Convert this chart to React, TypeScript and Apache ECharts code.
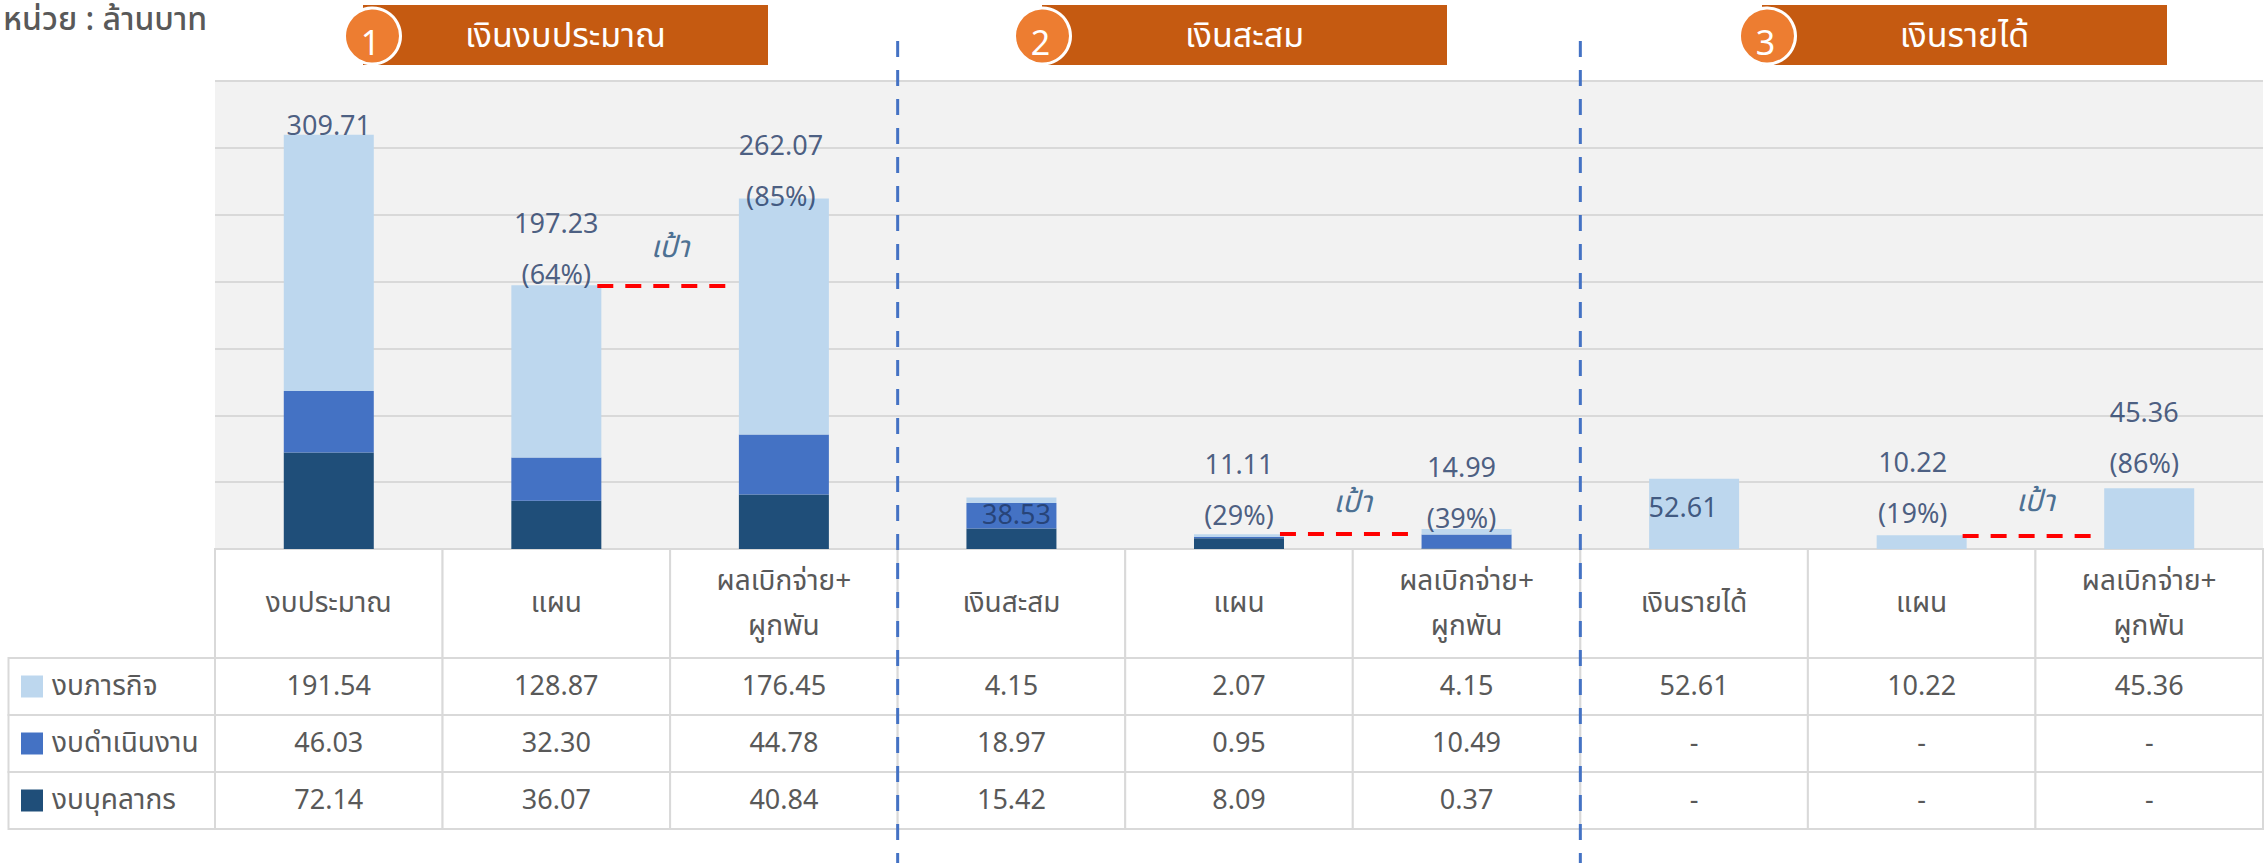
import React, { useEffect, useRef } from 'react';
import * as echarts from 'echarts';

// ---------- data ----------
const categories = [
  'งบประมาณ', 'แผน', 'ผลเบิกจ่าย+\nผูกพัน',
  'เงินสะสม', 'แผน', 'ผลเบิกจ่าย+\nผูกพัน',
  'เงินรายได้', 'แผน', 'ผลเบิกจ่าย+\nผูกพัน',
];
const sectionTitles = ['เงินงบประมาณ', 'เงินสะสม', 'เงินรายได้'];
const seriesNames = ['งบภารกิจ', 'งบดำเนินงาน', 'งบบุคลากร'];
const missionValues = [191.54, 128.87, 176.45, 4.15, 2.07, 4.15, 52.61, 10.22, 45.36];
const operatingValues = [46.03, 32.3, 44.78, 18.97, 0.95, 10.49, null, null, null];
const personnelValues = [72.14, 36.07, 40.84, 15.42, 8.09, 0.37, null, null, null];
const totalValues = [309.71, 197.23, 262.07, 38.53, 11.11, 14.99, 52.61, 10.22, 45.36];
const planIndices = [1, 4, 7];
const yMin = 0;
const yMax = 350;
const yInterval = 50;
const targetLabel = 'เป้า';
const unitLabel = 'หน่วย : ล้านบาท';

// ---------- layout / style ----------
const W = 2267;
const H = 863;
const GL = 215;
const GT = 81;
const GW = 2048;
const GH = 468;
const HEAD_T = GT + GH;
const HEAD_H = 109;
const ROW_T = HEAD_T + HEAD_H;
const ROW_H = 57;
const LABEL_L = 8.5;
const COL_W = GW / categories.length;
const FONT = "'Noto Sans Thai', 'Leelawadee UI', Tahoma, 'Noto Sans', 'DejaVu Sans', sans-serif";
const C_LIGHT = '#BDD7EE';
const C_MID = '#4472C4';
const C_DARK = '#1F4E79';
const rowColors = [C_LIGHT, C_MID, C_DARK];
const rowValues = [missionValues, operatingValues, personnelValues];
const totalLabelOffsets = [
  [0, -8], [0, -35], [-3, -27],
  [5, 18], [0, -43], [-5, -35],
  [-11, 30], [-9, -46], [-5, -49],
];
const targetLabelOffsets = [[0, -37], [0, -31], [0, -33]];
const bannerX = [363, 1042, 1762];
const circleX = [372.5, 1042.5, 1767.5];
const FS_NUM = 27;
const FS_THAI = 28;

function pctLabel(i: number) {
  const base = totalValues[i - (i % 3)];
  const v = totalValues[i].toFixed(2);
  if (i % 3 === 0) return v;
  return v + '\n(' + Math.round((totalValues[i] / base) * 100) + '%)';
}

export default function App() {
  const ref = useRef<HTMLDivElement>(null);
  useEffect(() => {
    if (!ref.current) return;
    const chart = echarts.init(ref.current, undefined, { renderer: 'svg' });

    const barBase = {
      type: 'bar',
      stack: 'total',
      barWidth: 90,
      xAxisIndex: 0,
      yAxisIndex: 0,
      silent: true,
    };

    const graphics: any[] = [
      {
        type: 'text',
        x: 3,
        y: 4,
        style: { text: unitLabel, fill: '#595959', fontSize: 32, fontWeight: 500, fontFamily: FONT, verticalAlign: 'top' },
      },
    ];
    sectionTitles.forEach((t, s) => {
      graphics.push({
        type: 'rect',
        shape: { x: bannerX[s], y: 5, width: 405, height: 60 },
        style: { fill: '#C55A11' },
        z: 10,
      });
      graphics.push({
        type: 'circle',
        shape: { cx: circleX[s], cy: 36, r: 28 },
        style: { fill: '#ED7D31', stroke: '#FFFFFF', lineWidth: 3 },
        z: 11,
      });
      graphics.push({
        type: 'text',
        x: circleX[s] - 2,
        y: 44,
        style: { text: String(s + 1), fill: '#FFFFFF', fontSize: 34, fontFamily: FONT, align: 'center', verticalAlign: 'middle' },
        z: 12,
      });
      graphics.push({
        type: 'text',
        x: bannerX[s] + 202.5,
        y: 36,
        style: { text: t, fill: '#FFFFFF', fontSize: 34, fontFamily: FONT, align: 'center', verticalAlign: 'middle' },
        z: 12,
      });
    });
    [3, 6].forEach((k) => {
      const x = GL + k * COL_W;
      graphics.push({
        type: 'line',
        shape: { x1: x, y1: 41, x2: x, y2: H },
        style: { stroke: '#4472C4', lineWidth: 3, lineDash: [16, 13] },
        z: 100,
      });
    });

    const option: any = {
      animation: false,
      backgroundColor: '#FFFFFF',
      textStyle: { fontFamily: FONT },
      grid: [
        { left: GL, top: GT, width: GW, height: GH, show: true, backgroundColor: '#F2F2F2', borderWidth: 0 },
        { left: GL, top: HEAD_T, width: GW, height: HEAD_H },
        { left: GL, top: ROW_T, width: GW, height: ROW_H * 3 },
      ],
      xAxis: [
        {
          gridIndex: 0, type: 'category', data: categories,
          axisLabel: { show: false }, axisTick: { show: false },
          axisLine: { show: true, lineStyle: { color: '#D9D9D9', width: 2 } },
        },
        { gridIndex: 0, type: 'value', min: 0, max: categories.length, show: false },
        { gridIndex: 1, type: 'category', data: categories, show: false },
        { gridIndex: 2, type: 'category', data: categories, show: false },
      ],
      yAxis: [
        {
          gridIndex: 0, type: 'value', min: yMin, max: yMax, interval: yInterval,
          axisLabel: { show: false }, axisLine: { show: false }, axisTick: { show: false },
          splitLine: { show: true, lineStyle: { color: '#D9D9D9', width: 2 } },
        },
        { gridIndex: 1, type: 'category', data: ['header'], show: false },
        { gridIndex: 2, type: 'category', data: seriesNames, inverse: true, show: false },
      ],
      series: [
        { ...barBase, name: seriesNames[2], data: personnelValues, itemStyle: { color: C_DARK } },
        { ...barBase, name: seriesNames[1], data: operatingValues, itemStyle: { color: C_MID } },
        { ...barBase, name: seriesNames[0], data: missionValues, itemStyle: { color: C_LIGHT } },
        {
          type: 'scatter',
          xAxisIndex: 0, yAxisIndex: 0,
          symbolSize: 1,
          silent: true,
          itemStyle: { color: 'rgba(0,0,0,0)' },
          z: 5,
          data: totalValues.map((v, i) => ({ value: [i, v], label: { offset: totalLabelOffsets[i] } })),
          label: {
            show: true,
            position: 'inside',
            formatter: (p: any) => pctLabel(p.dataIndex),
            color: '#1F3864',
            fontSize: FS_NUM,
            lineHeight: 51,
            fontFamily: FONT,
            align: 'center',
            verticalAlign: 'middle',
          },
        },
        {
          type: 'scatter',
          xAxisIndex: 1, yAxisIndex: 0,
          symbolSize: 1,
          silent: true,
          itemStyle: { color: 'rgba(0,0,0,0)' },
          z: 5,
          data: planIndices.map((p, k) => ({ value: [p + 1, totalValues[p]], label: { offset: targetLabelOffsets[k] } })),
          label: {
            show: true,
            position: 'inside',
            formatter: targetLabel,
            color: '#1F4E79',
            fontSize: 30,
            fontStyle: 'italic',
            fontFamily: FONT,
          },
          markLine: {
            silent: true,
            symbol: 'none',
            label: { show: false },
            lineStyle: { color: '#FF0000', type: [16, 12], width: 4 },
            data: planIndices.map((p) => [
              { coord: [p + 0.68, totalValues[p]] },
              { coord: [p + 1.26, totalValues[p]] },
            ]),
          },
        },
        {
          type: 'custom',
          xAxisIndex: 2, yAxisIndex: 1,
          silent: true,
          data: categories.map((_, i) => [i, 0]),
          renderItem: (params: any, api: any) => {
            const i = params.dataIndex;
            const c = api.coord([api.value(0), api.value(1)]);
            const s = api.size([1, 1]);
            return {
              type: 'group',
              children: [
                {
                  type: 'rect',
                  shape: { x: c[0] - s[0] / 2, y: c[1] - s[1] / 2, width: s[0], height: s[1] },
                  style: { fill: '#FFFFFF', stroke: '#D9D9D9', lineWidth: 2 },
                },
                {
                  type: 'text',
                  x: c[0],
                  y: c[1],
                  style: {
                    text: categories[i], fill: '#595959', fontSize: FS_THAI, fontFamily: FONT,
                    align: 'center', verticalAlign: 'middle', lineHeight: 45,
                  },
                },
              ],
            };
          },
        },
        {
          type: 'custom',
          xAxisIndex: 3, yAxisIndex: 2,
          silent: true,
          data: seriesNames.flatMap((_, r) => categories.map((__, c) => [c, r])),
          renderItem: (params: any, api: any) => {
            const col = api.value(0);
            const row = api.value(1);
            const c = api.coord([col, row]);
            const s = api.size([1, 1]);
            const x0 = c[0] - s[0] / 2;
            const y0 = c[1] - s[1] / 2;
            const v = rowValues[row][col];
            const children: any[] = [
              {
                type: 'rect',
                shape: { x: x0, y: y0, width: s[0], height: s[1] },
                style: { fill: '#FFFFFF', stroke: '#D9D9D9', lineWidth: 2 },
              },
              {
                type: 'text',
                x: c[0],
                y: c[1],
                style: {
                  text: v == null ? '-' : v.toFixed(2), fill: '#595959', fontSize: FS_NUM, fontFamily: FONT,
                  align: 'center', verticalAlign: 'middle',
                },
              },
            ];
            if (col === 0) {
              children.push({
                type: 'rect',
                shape: { x: LABEL_L, y: y0, width: x0 - LABEL_L, height: s[1] },
                style: { fill: '#FFFFFF', stroke: '#D9D9D9', lineWidth: 2 },
              });
              children.push({
                type: 'rect',
                shape: { x: LABEL_L + 12.5, y: c[1] - 11, width: 22, height: 22 },
                style: { fill: rowColors[row] },
              });
              children.push({
                type: 'text',
                x: LABEL_L + 43.5,
                y: c[1],
                style: {
                  text: seriesNames[row], fill: '#595959', fontSize: FS_THAI, fontFamily: FONT,
                  align: 'left', verticalAlign: 'middle',
                },
              });
            }
            return { type: 'group', children };
          },
        },
      ],
      graphic: graphics,
    };

    chart.setOption(option);
    return () => chart.dispose();
  }, []);

  return (
    <div
      ref={ref}
      style={{ position: 'absolute', left: 0, top: 0, width: W, height: H, background: '#FFFFFF' }}
    />
  );
}
